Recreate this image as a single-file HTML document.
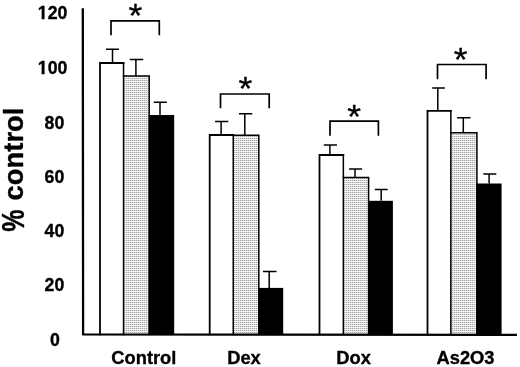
<!DOCTYPE html>
<html><head><meta charset="utf-8"><title>chart</title>
<style>
html,body{margin:0;padding:0;background:#fff;}
svg{display:block;will-change:transform;}
text{font-family:"Liberation Sans",Arial,Helvetica,sans-serif;font-weight:bold;fill:#000;stroke:#000;stroke-width:0.35px;stroke-linejoin:round;}
</style></head><body>
<svg width="520" height="367" viewBox="0 0 520 367">
<defs>
<pattern id="dots" x="0" y="0" width="2" height="2" patternUnits="userSpaceOnUse">
<rect width="2" height="2" fill="#f4f4f4"/><rect x="0" y="0" width="2" height="1" fill="#dcdcdc"/><rect x="0" y="0" width="1" height="1" fill="#a4a4a4"/>
</pattern>
</defs>

<rect x="123.5" y="76.0" width="25.7" height="258.4" fill="url(#dots)"/>
<rect x="148.7" y="115.0" width="25.5" height="219.4" fill="#000"/>
<path d="M123.5 76.0H149.2V334.4" fill="none" stroke="#000" stroke-width="1.5" stroke-linecap="square"/>
<path d="M123.55 63.0V334.4" fill="none" stroke="#000" stroke-width="1.5" stroke-linecap="square"/>
<path d="M100.0 334.4V63.0H123.5" fill="none" stroke="#000" stroke-width="1.8" stroke-linecap="square"/>
<path d="M112.5 63.0V49.2M106.0 49.2H118.9" fill="none" stroke="#000" stroke-width="1.5"/>
<path d="M135.9 76.0V59.6M129.8 59.6H143.2" fill="none" stroke="#000" stroke-width="1.5"/>
<path d="M160.0 115.0V102.2M153.7 102.2H166.9" fill="none" stroke="#000" stroke-width="1.5"/>
<path d="M111.0 35.2V20.9H159.3V35.2" fill="none" stroke="#000" stroke-width="1.7"/>
<text transform="translate(135.5 26.5) scale(1 0.93)" font-size="35.5" font-weight="normal" style="font-weight:normal" stroke="#000" stroke-width="0.4" text-anchor="middle">*</text>
<rect x="233.2" y="135.3" width="25.6" height="199.1" fill="url(#dots)"/>
<rect x="258.3" y="287.9" width="24.9" height="46.5" fill="#000"/>
<path d="M233.2 135.3H258.8V334.4" fill="none" stroke="#000" stroke-width="1.5" stroke-linecap="square"/>
<path d="M233.25 135.0V334.4" fill="none" stroke="#000" stroke-width="1.5" stroke-linecap="square"/>
<path d="M209.7 334.4V135.0H233.2" fill="none" stroke="#000" stroke-width="1.8" stroke-linecap="square"/>
<path d="M221.1 135.0V121.4M215.1 121.4H228.3" fill="none" stroke="#000" stroke-width="1.5"/>
<path d="M244.8 135.3V113.8M239.0 113.8H252.3" fill="none" stroke="#000" stroke-width="1.5"/>
<path d="M269.2 287.9V271.4M263.0 271.4H276.5" fill="none" stroke="#000" stroke-width="1.5"/>
<path d="M220.5 108.2V94.0H269.2V108.2" fill="none" stroke="#000" stroke-width="1.7"/>
<text transform="translate(245.5 99.8) scale(1 0.93)" font-size="35.5" font-weight="normal" style="font-weight:normal" stroke="#000" stroke-width="0.4" text-anchor="middle">*</text>
<rect x="343.3" y="177.4" width="25.3" height="157.0" fill="url(#dots)"/>
<rect x="368.1" y="200.8" width="24.8" height="133.6" fill="#000"/>
<path d="M343.3 177.4H368.6V334.4" fill="none" stroke="#000" stroke-width="1.5" stroke-linecap="square"/>
<path d="M343.35 155.0V334.4" fill="none" stroke="#000" stroke-width="1.5" stroke-linecap="square"/>
<path d="M319.5 334.4V155.0H343.3" fill="none" stroke="#000" stroke-width="1.8" stroke-linecap="square"/>
<path d="M329.9 155.0V145.1M323.8 145.1H337.0" fill="none" stroke="#000" stroke-width="1.5"/>
<path d="M355.0 177.4V168.9M349.1 168.9H362.1" fill="none" stroke="#000" stroke-width="1.5"/>
<path d="M381.2 200.8V189.5M374.8 189.5H387.7" fill="none" stroke="#000" stroke-width="1.5"/>
<path d="M330.0 135.7V121.1H378.4V135.7" fill="none" stroke="#000" stroke-width="1.7"/>
<text transform="translate(354.2 127.9) scale(1 0.93)" font-size="35.5" font-weight="normal" style="font-weight:normal" stroke="#000" stroke-width="0.4" text-anchor="middle">*</text>
<rect x="450.8" y="132.7" width="26.1" height="201.7" fill="url(#dots)"/>
<rect x="476.4" y="183.5" width="25.2" height="150.9" fill="#000"/>
<path d="M450.8 132.7H476.9V334.4" fill="none" stroke="#000" stroke-width="1.5" stroke-linecap="square"/>
<path d="M450.85 110.9V334.4" fill="none" stroke="#000" stroke-width="1.5" stroke-linecap="square"/>
<path d="M427.5 334.4V110.9H450.8" fill="none" stroke="#000" stroke-width="1.8" stroke-linecap="square"/>
<path d="M437.8 110.9V88.0M432.2 88.0H444.9" fill="none" stroke="#000" stroke-width="1.5"/>
<path d="M463.3 132.7V117.8M457.1 117.8H470.5" fill="none" stroke="#000" stroke-width="1.5"/>
<path d="M489.1 183.5V174.1M483.3 174.1H496.3" fill="none" stroke="#000" stroke-width="1.5"/>
<path d="M437.5 79.2V64.5H486.1V79.2" fill="none" stroke="#000" stroke-width="1.7"/>
<text transform="translate(460.7 71.3) scale(1 0.93)" font-size="35.5" font-weight="normal" style="font-weight:normal" stroke="#000" stroke-width="0.4" text-anchor="middle">*</text>
<path d="M82.8 8.2L83.1 334.4L517 334.8" fill="none" stroke="#000" stroke-width="2.3" stroke-linejoin="round"/>
<text x="52.6" y="18.6" font-size="17.7" text-anchor="middle">120</text>
<text x="52.6" y="73.7" font-size="17.7" text-anchor="middle">100</text>
<text x="54.4" y="128.7" font-size="17.7" text-anchor="middle">80</text>
<text x="54.4" y="183.4" font-size="17.7" text-anchor="middle">60</text>
<text x="54.4" y="236.7" font-size="17.7" text-anchor="middle">40</text>
<text x="54.4" y="291.1" font-size="17.7" text-anchor="middle">20</text>
<text x="54.8" y="346.0" font-size="17.7" text-anchor="middle">0</text>
<rect x="37" y="16" width="4" height="4" fill="#fff"/>
<rect x="45" y="16" width="3" height="4" fill="#fff"/>
<rect x="41" y="17" width="0.6" height="3" fill="#fff"/>
<rect x="44.55" y="17" width="0.45" height="3" fill="#fff"/>
<rect x="37" y="71" width="4" height="4" fill="#fff"/>
<rect x="45" y="71" width="3" height="4" fill="#fff"/>
<rect x="41" y="72" width="0.6" height="3" fill="#fff"/>
<rect x="44.55" y="72" width="0.45" height="3" fill="#fff"/>
<text x="143.85" y="363.5" font-size="18.3" text-anchor="middle">Control</text>
<text x="244.0" y="363.5" font-size="18.3" text-anchor="middle">Dex</text>
<text x="353.6" y="363.5" font-size="18.3" text-anchor="middle">Dox</text>
<text x="465.5" y="363.5" font-size="18.3" text-anchor="middle">As2O3</text>
<text transform="translate(23.3 200.4) rotate(-90)" font-size="27.4">control</text>
<text transform="translate(23.5 231.7) rotate(-90) scale(0.914 1.16)" font-size="27.4">%</text>
</svg></body></html>
